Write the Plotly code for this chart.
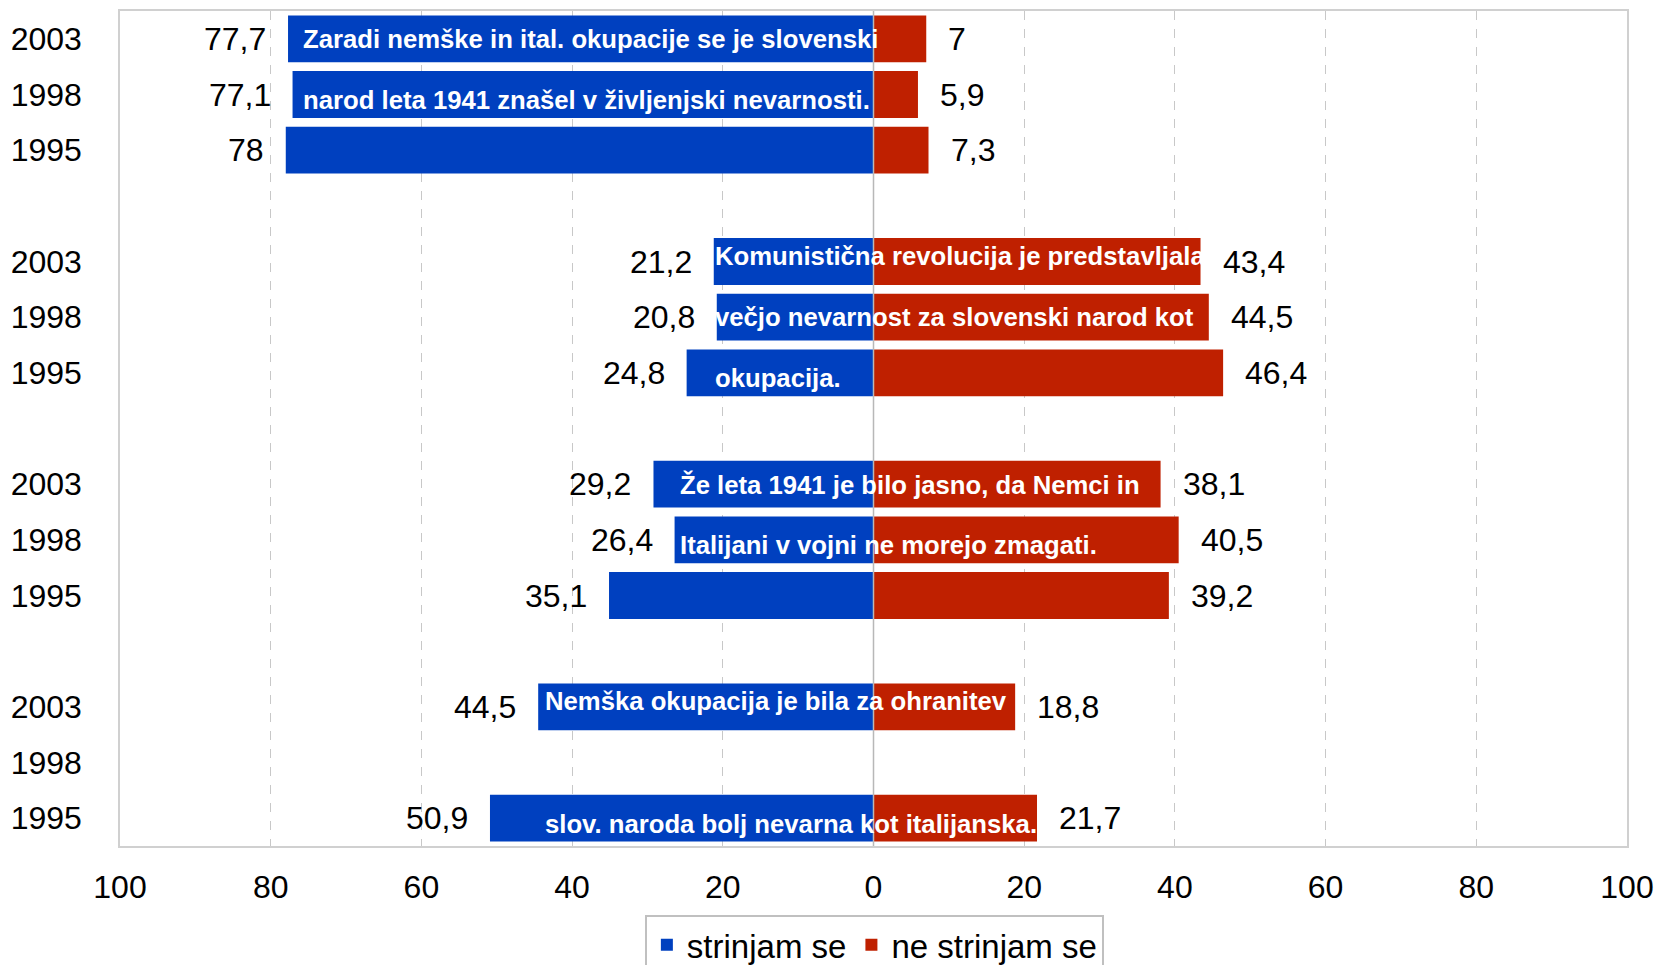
import plotly.graph_objects as go

# ---- data ----
years = ["2003", "1998", "1995"]
statements = [
    ["Zaradi nemške in ital. okupacije se je slovenski",
     "narod leta 1941 znašel v življenjski nevarnosti."],
    ["Komunistična revolucija je predstavljala",
     "večjo nevarnost za slovenski narod kot",
     "okupacija."],
    ["Že leta 1941 je bilo jasno, da Nemci in",
     "Italijani v vojni ne morejo zmagati."],
    ["Nemška okupacija je bila za ohranitev",
     "",
     "slov. naroda bolj nevarna kot italijanska."],
]
agree = [
    [77.7, 77.1, 78.0],
    [21.2, 20.8, 24.8],
    [29.2, 26.4, 35.1],
    [44.5, None, 50.9],
]
disagree = [
    [7.0, 5.9, 7.3],
    [43.4, 44.5, 46.4],
    [38.1, 40.5, 39.2],
    [18.8, None, 21.7],
]
series_names = ["strinjam se", "ne strinjam se"]
x_ticks = [-100, -80, -60, -40, -20, 0, 20, 40, 60, 80, 100]

# ---- styling / layout ----
BLUE = "#0040BF"
RED = "#BF2000"
FONT = "Liberation Sans, Arial, sans-serif"

# row positions: groups separated by an empty row
ys, labels, ag, dg = [], [], [], []
for g in range(len(agree)):
    for k, yr in enumerate(years):
        ys.append(g * 4 + k)
        labels.append(yr)
        ag.append(agree[g][k])
        dg.append(disagree[g][k])

def fmt(v):
    return ("%g" % v).replace(".", ",")

fig = go.Figure()
fig.add_trace(go.Bar(
    y=ys, x=[-v if v is not None else None for v in ag], orientation="h",
    name=series_names[0], marker=dict(color=BLUE, line=dict(width=0)),
))
fig.add_trace(go.Bar(
    y=ys, x=dg, orientation="h",
    name=series_names[1], marker=dict(color=RED, line=dict(width=0)),
))

annotations = []
for y, a, d in zip(ys, ag, dg):
    if a is not None:
        annotations.append(dict(x=-a, y=y, xref="x", yref="y", text=fmt(a),
                                showarrow=False, xanchor="right", yanchor="middle",
                                xshift=-20, font=dict(size=32, color="black", family=FONT)))
    if d is not None:
        annotations.append(dict(x=d, y=y, xref="x", yref="y", text=fmt(d),
                                showarrow=False, xanchor="left", yanchor="middle",
                                xshift=20, font=dict(size=32, color="black", family=FONT)))

# statement text placement (start x in data units, first line row, line step)
stmt_pos = [(-76.0, 0.0), (-21.3, 3.9), (-26.0, 8.0), (-43.9, 11.9)]
line_step = 1.1
for lines, (sx, sy) in zip(statements, stmt_pos):
    for i, t in enumerate(lines):
        if not t:
            continue
        annotations.append(dict(x=sx, y=sy + i * line_step, xref="x", yref="y", text="<b>%s</b>" % t,
                                showarrow=False, xanchor="left", yanchor="middle",
                                font=dict(size=25.7, color="white", family=FONT)))

fig.update_layout(
    width=1656, height=965,
    margin=dict(l=120, r=29, t=11, b=119, autoexpand=False),
    paper_bgcolor="white", plot_bgcolor="white",
    barmode="relative", bargap=0.16,
    font=dict(family=FONT, size=32, color="black"),
    showlegend=True,
    legend=dict(orientation="h", x=0.528, xanchor="center", xref="container",
                y=0.052, yanchor="top", yref="container",
                bordercolor="#c0c0c0", borderwidth=2, bgcolor="white",
                font=dict(size=33, color="black", family=FONT),
                itemwidth=30, tracegroupgap=0, traceorder="normal"),
    annotations=annotations,
    shapes=[dict(type="line", xref="x", yref="paper", x0=0, x1=0, y0=0, y1=1,
                 line=dict(color="#b8b8b8", width=1.5), layer="above")],
)
fig.update_xaxes(
    range=[-100, 100], tickvals=x_ticks, ticktext=[str(abs(v)) for v in x_ticks],
    showgrid=True, gridcolor="#c8c8c8", griddash="dash", gridwidth=1.2,
    zeroline=False, showline=True, mirror=True, linecolor="#d0d0d0", linewidth=1.5,
    ticks="", ticklabelstandoff=12, automargin=False,
    tickfont=dict(size=32, family=FONT, color="black"),
)
fig.update_yaxes(
    range=[14.5, -0.5], tickvals=ys, ticktext=labels,
    showgrid=False, zeroline=False, showline=True, mirror=True,
    linecolor="#d0d0d0", linewidth=1.5,
    ticks="", ticklabelstandoff=30, automargin=False,
    tickfont=dict(size=32, family=FONT, color="black"),
)

fig.write_html(
    "out.html",
    config={"displayModeBar": False},
    post_script="document.body.style.margin='0';document.body.style.overflow='hidden';",
)
